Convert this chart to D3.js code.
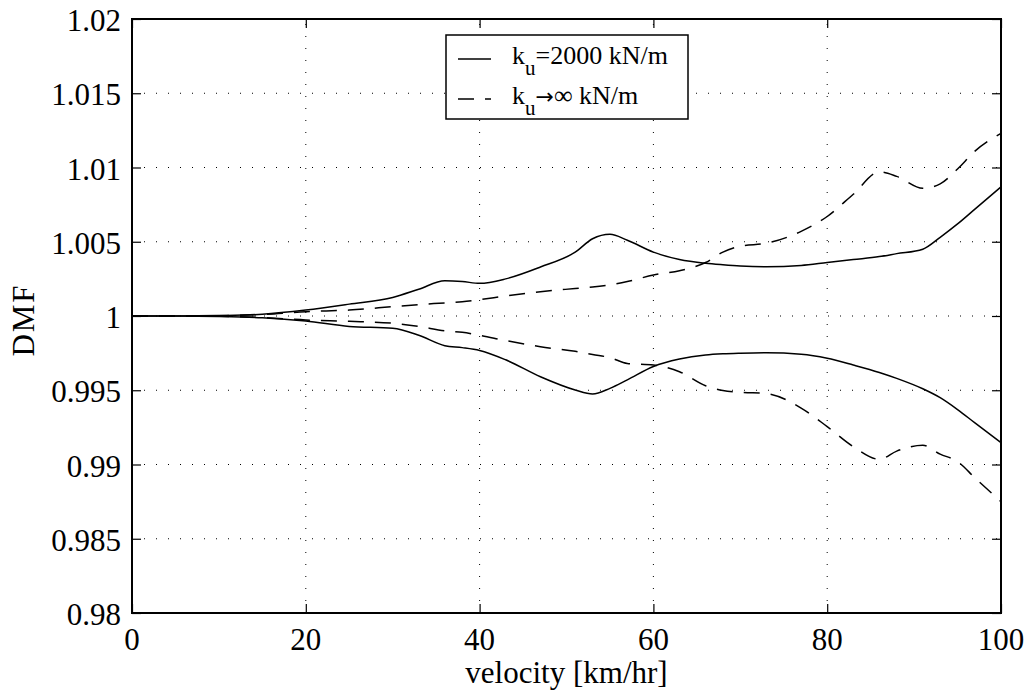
<!DOCTYPE html>
<html><head><meta charset="utf-8">
<script src="https://cdn.jsdelivr.net/npm/d3@7/dist/d3.min.js"></script>
<style>body{margin:0;background:#fff}svg{display:block}</style>
</head><body><svg id="c" width="1028" height="692"></svg>
<script>
const velocity = [0,5,10,15,20,25,30,33,36,38,40,43,47,51,53,55,57,60,63,66,68,70,73,77,80,83,86,88,91,93,95,97,100];
const upper2000 = [1.0,1.0,1.00003,1.00012,1.0004,1.0008,1.00125,1.0018,1.00237,1.00232,1.0022,1.0025,1.0033,1.0043,1.0052,1.0055,1.0051,1.0043,1.0038,1.00355,1.00345,1.00337,1.00332,1.0034,1.0036,1.0038,1.004,1.0042,1.0045,1.0053,1.0062,1.0072,1.0087];
const lower2000 = [1.0,1.0,0.99997,0.99988,0.99966,0.9993,0.99917,0.9987,0.998,0.99787,0.99768,0.99705,0.99591,0.99502,0.99475,0.99513,0.9957,0.9966,0.9971,0.99737,0.99745,0.99749,0.99752,0.99742,0.99715,0.9967,0.9962,0.9958,0.9951,0.9945,0.9937,0.9928,0.99147];
const upperInf = [1.0,1.0,1.00002,1.0001,1.00029,1.0004,1.00063,1.00077,1.00088,1.00096,1.0011,1.00135,1.00164,1.00185,1.00195,1.0021,1.00232,1.00276,1.00305,1.0036,1.0043,1.0047,1.0049,1.0057,1.0067,1.0082,1.0097,1.0094,1.0086,1.0089,1.0099,1.0111,1.0123];
const lowerInf = [1.0,1.0,0.99998,0.9999,0.99973,0.99964,0.99951,0.9993,0.999,0.9989,0.9987,0.99835,0.99793,0.99762,0.9974,0.9972,0.9968,0.9967,0.99625,0.9953,0.99498,0.99486,0.99478,0.9938,0.99255,0.9912,0.99035,0.9909,0.9913,0.9907,0.9902,0.9891,0.9875];
const xTicks = [0,20,40,60,80,100];
const yTicks = [0.98,0.985,0.99,0.995,1,1.005,1.01,1.015,1.02];
const yTickLabels = ["0.98","0.985","0.99","0.995","1","1.005","1.01","1.015","1.02"];

const L=132,R=1001,T=19,B=613;
const svg=d3.select("#c");
const x=d3.scaleLinear().domain([0,100]).range([L,R]);
const y=d3.scaleLinear().domain([0.98,1.02]).range([B,T]);
const font="Liberation Serif";

// grid
const g=svg.append("g");
xTicks.slice(1,-1).forEach(v=>{
  g.append("line").attr("x1",x(v)).attr("x2",x(v)).attr("y1",B).attr("y2",T)
   .attr("stroke","#000").attr("stroke-width",1).attr("stroke-dasharray","1,11");
});
yTicks.slice(1,-1).forEach(v=>{
  g.append("line").attr("x1",L).attr("x2",R).attr("y1",y(v)).attr("y2",y(v))
   .attr("stroke","#000").attr("stroke-width",1).attr("stroke-dasharray","1,11");
});

// curves
const line=d3.line().x((d,i)=>x(velocity[i])).y(d=>y(d)).curve(d3.curveMonotoneX);
[[upper2000,null],[lower2000,null],[upperInf,"16,11"],[lowerInf,"16,11"]].forEach(([s,da])=>{
  svg.append("path").attr("d",line(s)).attr("fill","none").attr("stroke","#000")
    .attr("stroke-width",1.5).attr("stroke-dasharray",da);
});

// axes box
svg.append("rect").attr("x",L).attr("y",T).attr("width",R-L).attr("height",B-T)
  .attr("fill","none").attr("stroke","#000").attr("stroke-width",2);

// ticks via axis generators
const tl=9;
const ax=svg.append("g");
ax.append("g").attr("transform",`translate(0,${B})`).call(d3.axisTop(x).tickValues(xTicks).tickSize(tl).tickFormat(""));
ax.append("g").attr("transform",`translate(0,${T})`).call(d3.axisBottom(x).tickValues(xTicks).tickSize(tl).tickFormat(""));
ax.append("g").attr("transform",`translate(${L},0)`).call(d3.axisRight(y).tickValues(yTicks).tickSize(tl).tickFormat(""));
ax.append("g").attr("transform",`translate(${R},0)`).call(d3.axisLeft(y).tickValues(yTicks).tickSize(tl).tickFormat(""));
ax.selectAll(".domain").remove();
ax.selectAll(".tick line").attr("stroke","#000").attr("stroke-width",1.2);

// tick labels
xTicks.forEach(v=>{
  svg.append("text").attr("x",x(v)).attr("y",650).attr("text-anchor","middle")
    .attr("font-family",font).attr("font-size",31).text(String(v));
});
yTicks.forEach((v,i)=>{
  svg.append("text").attr("x",L-11).attr("y",y(v)+12).attr("text-anchor","end")
    .attr("font-family",font).attr("font-size",31).text(yTickLabels[i]);
});
svg.append("text").attr("x",(L+R)/2).attr("y",683).attr("text-anchor","middle")
  .attr("font-family",font).attr("font-size",31).text("velocity [km/hr]");
svg.append("text").attr("transform",`translate(34,320) rotate(-90)`).attr("text-anchor","middle")
  .attr("font-family",font).attr("font-size",31).attr("letter-spacing",2).text("DMF");

// legend
const lg=svg.append("g");
lg.append("rect").attr("x",446).attr("y",35).attr("width",242).attr("height",84)
  .attr("fill","#fff").attr("stroke","#000").attr("stroke-width",1.5);
const legendRows=[{y:59,da:null},{y:99,da:"16,11"}];
legendRows.forEach((r,i)=>{
  lg.append("line").attr("x1",458).attr("x2",491).attr("y1",r.y).attr("y2",r.y)
    .attr("stroke","#000").attr("stroke-width",1.5).attr("stroke-dasharray",r.da);
  const t=lg.append("text").attr("x",512).attr("y",r.y+5).attr("font-family",font).attr("font-size",26);
  t.append("tspan").text("k");
  t.append("tspan").attr("dy",11).attr("font-size",21).text("u");
  if(i===0){
    t.append("tspan").attr("dy",-11).text("=2000 kN/m");
  } else {
    t.append("tspan").attr("dy",-11).attr("font-family","DejaVu Sans").attr("font-size",22).text("\u2192");
    t.append("tspan").text("\u221E kN/m");
  }
});
</script></body></html>
